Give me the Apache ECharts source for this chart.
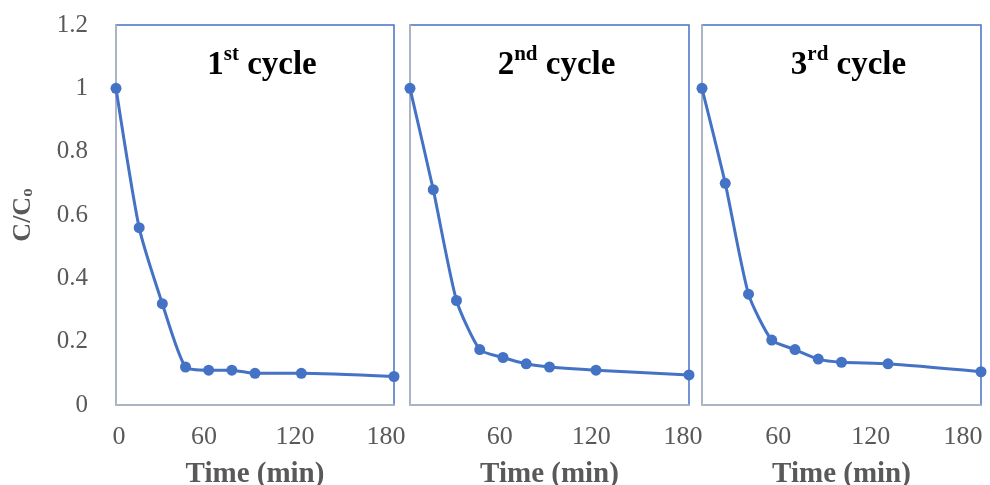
<!DOCTYPE html>
<html>
<head>
<meta charset="utf-8">
<script src="https://cdn.jsdelivr.net/npm/echarts@6/dist/echarts.min.js"></script>
<style>html,body{margin:0;padding:0;background:#fff}#c{width:990px;height:485px}</style>
</head>
<body>
<div id="c"></div>
<script>
var times = [0, 15, 30, 45, 60, 75, 90, 120, 180];
var cycle1 = [1.0, 0.56, 0.32, 0.12, 0.11, 0.11, 0.10, 0.10, 0.09];
var cycle2 = [1.0, 0.68, 0.33, 0.175, 0.15, 0.13, 0.12, 0.11, 0.095];
var cycle3 = [1.0, 0.70, 0.35, 0.205, 0.175, 0.145, 0.135, 0.13, 0.105];
var cycleNum = ['1', '2', '3'];
var cycleSup = ['st', 'nd', 'rd'];
var xTicks = [0, 60, 120, 180];
var yTicks = [0, 0.2, 0.4, 0.6, 0.8, 1, 1.2];

var series = [cycle1, cycle2, cycle3];
var panels = [
  {left: 116, width: 278, lblLeft: 113, lblWidth: 273},
  {left: 410, width: 279, lblLeft: 408, lblWidth: 275},
  {left: 702, width: 279, lblLeft: 686, lblWidth: 277}
];
var SERIF = '"Liberation Serif", "Times New Roman", serif';
var BLUE = '#4472c4';
var GRAY = '#bfbfbf';
var LBL = '#595959';

var grids = [], xAxes = [], yAxes = [], seriesList = [], titles = [];
panels.forEach(function (p, i) {
  grids.push({left: p.left, top: 25, width: p.width, height: 380, show: true,
    outerBoundsMode: 'none', containLabel: false,
    borderColor: BLUE, borderWidth: 1.5, backgroundColor: 'transparent'});
  grids.push({left: p.lblLeft, top: 25, width: p.lblWidth, height: 380, show: false,
    outerBoundsMode: 'none', containLabel: false});
  var gMain = i * 2, gLbl = i * 2 + 1;
  xAxes.push({gridIndex: gMain, type: 'value', min: 0, max: 180, interval: 60,
    axisLine: {show: true, lineStyle: {color: GRAY, width: 1.5}},
    axisTick: {show: false}, axisLabel: {show: false}, splitLine: {show: false},
    name: 'Time (min)', nameLocation: 'middle', nameGap: 55,
    nameTextStyle: {fontFamily: SERIF, fontWeight: 'bold', fontSize: 29, color: LBL}});
  xAxes.push({gridIndex: gLbl, type: 'value', min: 0, max: 180, interval: 60,
    axisLine: {show: false}, axisTick: {show: false}, splitLine: {show: false},
    axisLabel: {show: true, margin: 19, fontFamily: SERIF, fontSize: 26, color: LBL,
      customValues: xTicks,
      formatter: function (v) {
        if (v === 0) return i === 0 ? '{z|0}' : '';
        return String(v);
      },
      rich: {z: {fontFamily: SERIF, fontSize: 26, color: LBL, padding: [0, 0, 0, 12]}}
    }});
  var ya = {gridIndex: gMain, type: 'value', min: 0, max: 1.2, interval: 0.2,
    axisLine: {show: true, lineStyle: {color: GRAY, width: 1.5}},
    axisTick: {show: false}, splitLine: {show: false},
    axisLabel: {show: i === 0, margin: 28, fontFamily: SERIF, fontSize: 25, color: LBL,
      formatter: function (v) { return String(Math.round(v * 10) / 10); }}};
  if (i === 0) {
    ya.name = 'C/C{s|o}';
    ya.nameLocation = 'middle';
    ya.nameRotate = 90;
    ya.nameGap = 80;
    ya.nameTextStyle = {fontFamily: SERIF, fontWeight: 'bold', fontSize: 26, color: LBL,
      rich: {s: {fontFamily: SERIF, fontWeight: 'bold', fontSize: 17, color: LBL, verticalAlign: 'bottom', padding: [6, 0, 0, 0]}}};
  }
  yAxes.push(ya);
  yAxes.push({gridIndex: gLbl, type: 'value', min: 0, max: 1.2, show: false});
  seriesList.push({type: 'line', xAxisIndex: i * 2, yAxisIndex: i * 2,
    data: times.map(function (t, k) { return [t, series[i][k]]; }),
    smooth: 0.2, clip: false, symbol: 'circle', symbolSize: 11,
    lineStyle: {color: BLUE, width: 3}, itemStyle: {color: BLUE}});
  titles.push({text: '{b|' + cycleNum[i] + '}{s|' + cycleSup[i] + '}{b| cycle}',
    left: p.left + p.width / 2 + 2, top: 39, textAlign: 'center',
    textStyle: {rich: {
      b: {fontFamily: SERIF, fontWeight: 'bold', fontSize: 33, color: '#000', lineHeight: 38, verticalAlign: 'bottom'},
      s: {fontFamily: SERIF, fontWeight: 'bold', fontSize: 21, color: '#000', lineHeight: 38, verticalAlign: 'top'}
    }}});
});

var chart = echarts.init(document.getElementById('c'), null, {renderer: 'canvas'});
chart.setOption({
  animation: false,
  backgroundColor: '#fff',
  title: titles,
  grid: grids,
  xAxis: xAxes,
  yAxis: yAxes,
  series: seriesList
});
</script>
</body>
</html>
